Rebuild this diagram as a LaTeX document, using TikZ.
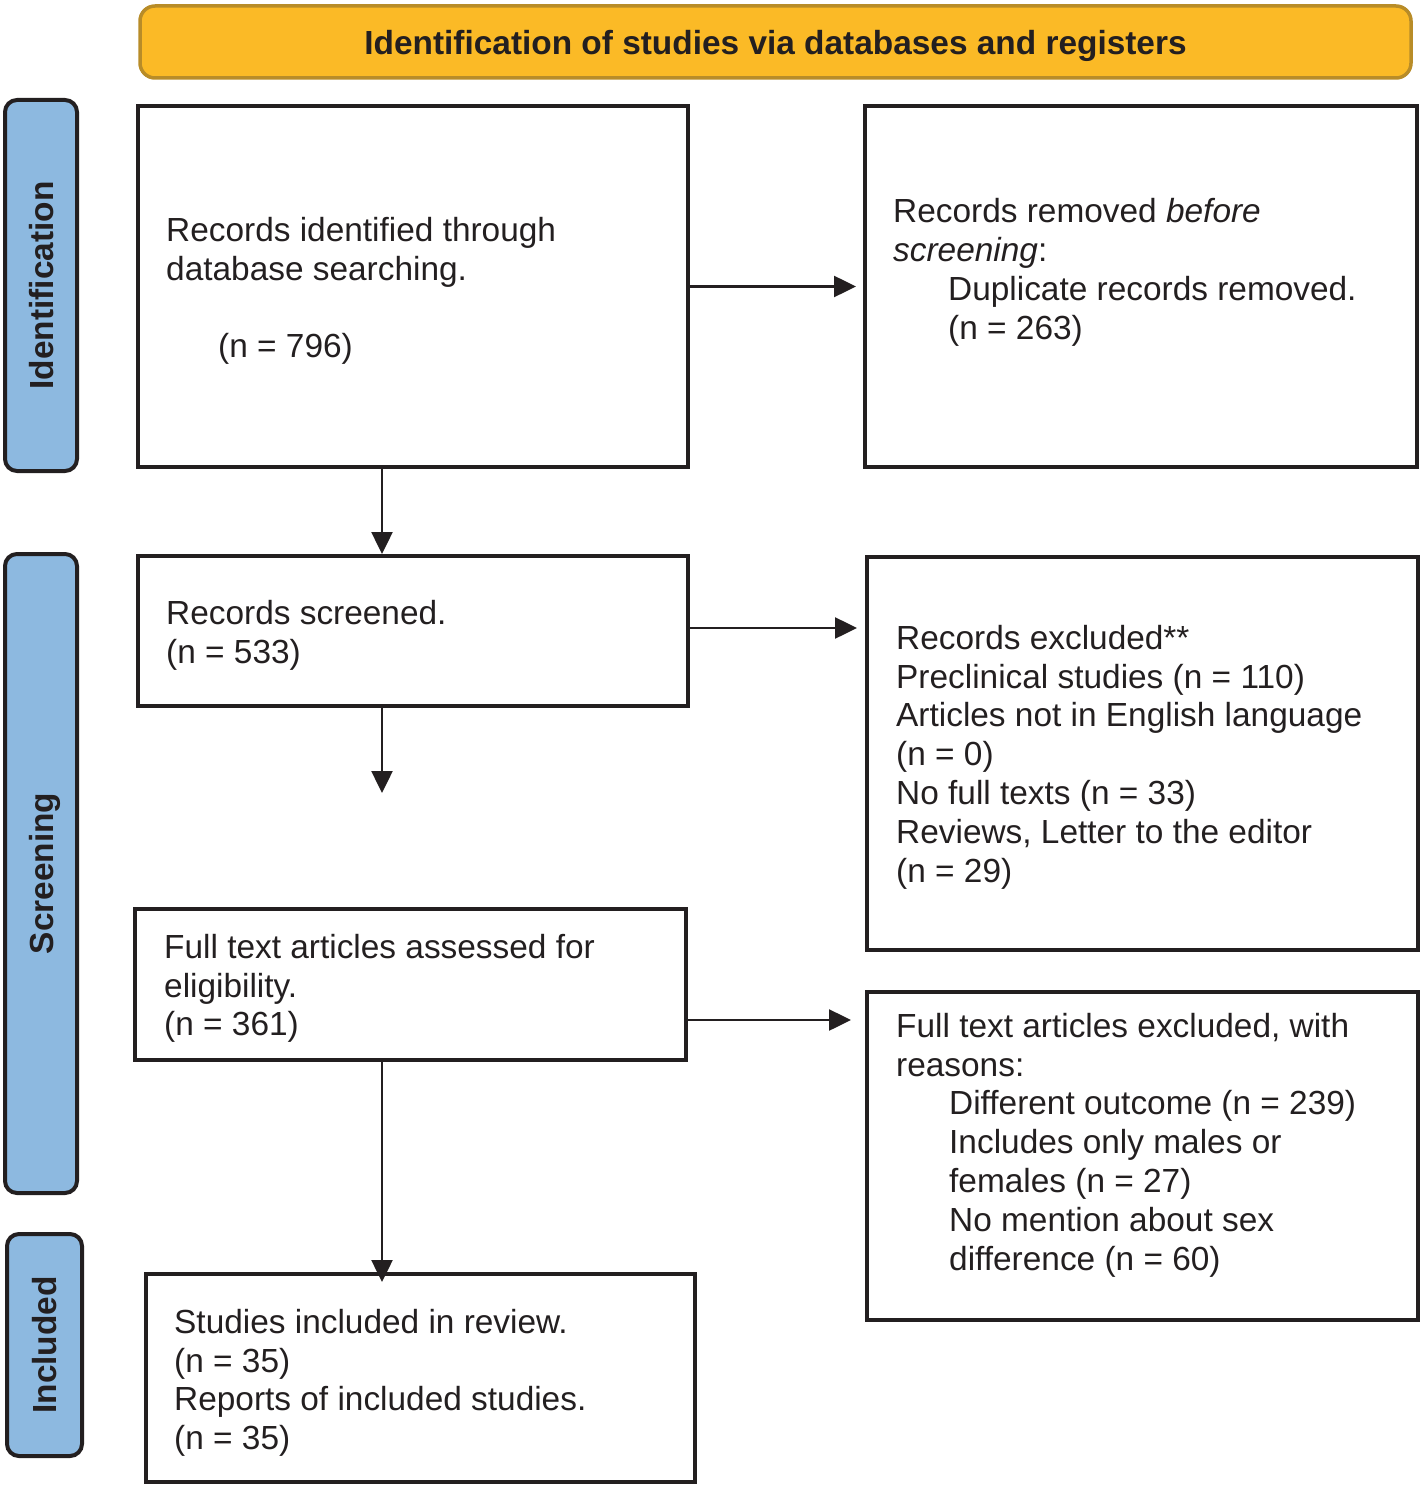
\documentclass[tikz,border=0pt]{standalone}
\usepackage{fontspec}
\setmainfont{Liberation Sans}
\usetikzlibrary{arrows.meta,calc}
\definecolor{banfill}{HTML}{FBBA26}
\definecolor{banline}{HTML}{B88C28}
\definecolor{sidefill}{HTML}{8DB9E0}
\definecolor{ink}{HTML}{231F20}
\begin{document}
\begin{tikzpicture}[x=1pt,y=-1pt,
  box/.style={draw=ink, line width=4pt, inner sep=0pt},
  txt/.style={anchor=north west, inner sep=0pt, align=left, text=ink, font=\fontsize{33.4}{38.9}\selectfont},
  side/.style={draw=ink, fill=sidefill, line width=4pt, rounded corners=12pt, inner sep=0pt, text depth=0pt, text=ink, font=\fontsize{33.4}{39}\selectfont\bfseries},
  banner/.style={draw=banline, fill=banfill, line width=3.5pt, rounded corners=15pt, inner sep=0pt, text depth=0pt, text=ink, font=\fontsize{33.4}{39}\selectfont\bfseries},
  arr/.style={draw=ink, line width=2.5pt, -{Triangle[length=22pt,width=21pt]}}
]
\useasboundingbox (0,0) rectangle (1425,1487);

% banner and side labels
\node[banner, minimum width=1271pt, minimum height=72pt] (ban) at (775.5,42) {Identification of studies via databases and registers};
\node[side, rotate=90, minimum width=371pt, minimum height=72pt] (sid) at (41,285.5) {Identification};
\node[side, rotate=90, minimum width=639pt, minimum height=72pt] (ssc) at (41,873.5) {Screening};
\node[side, rotate=90, minimum width=222pt, minimum height=75pt] (sin) at (44.5,1345) {Included};

% boxes
\node[box, minimum width=550pt, minimum height=361pt] (b1) at (413,286.5) {};
\node[box, minimum width=552pt, minimum height=361pt] (b2) at (1141,286.5) {};
\node[box, minimum width=550pt, minimum height=150pt] (b3) at (413,631) {};
\node[box, minimum width=551pt, minimum height=393pt] (b4) at (1142.5,753.5) {};
\node[box, minimum width=551pt, minimum height=151pt] (b5) at (410.5,984.5) {};
\node[box, minimum width=551pt, minimum height=328pt] (b6) at (1142.5,1156) {};
\node[box, minimum width=549pt, minimum height=208pt] (b7) at (420.5,1378) {};

% texts
\node[txt] (t1) at (166,213.7) {\strut Records identified through\\database searching.\\[38.9pt]\hspace*{52pt}(n = 796)};
\node[txt] (t2) at (893,195) {\strut Records removed \textit{before}\\\textit{screening}:\\\hspace*{55pt}Duplicate records removed.\\\hspace*{55pt}(n = 263)};
\node[txt] (t3) at (166,596.7) {\strut Records screened.\\(n = 533)};
\node[txt] (t4) at (896,621.7) {\strut Records excluded**\\Preclinical studies (n = 110)\\Articles not in English language\\(n = 0)\\No full texts (n = 33)\\Reviews, Letter to the editor\\(n = 29)};
\node[txt] (t5) at (164,930.7) {\strut Full text articles assessed for\\eligibility.\\(n = 361)};
\node[txt] (t6) at (896,1009.7) {\strut Full text articles excluded, with\\reasons:\\\hspace*{53pt}Different outcome (n = 239)\\\hspace*{53pt}Includes only males or\\\hspace*{53pt}females (n = 27)\\\hspace*{53pt}No mention about sex\\\hspace*{53pt}difference (n = 60)};
\node[txt] (t7) at (174,1305.7) {\strut Studies included in review.\\(n = 35)\\Reports of included studies.\\(n = 35)};

% connectors
\coordinate (d1) at (382,793);
\draw[arr, shorten >=7pt] (b1.east) -- (b2.west);
\draw[arr] ([xshift=-31pt]b1.south) -- ([xshift=-31pt]b1.south |- b3.north);
\draw[arr, shorten >=8pt] ([yshift=3pt]b3.east) -- ([yshift=3pt]b3.east -| b4.west);
\draw[arr] ([xshift=-31pt]b3.south) -- (d1);
\draw[arr, shorten >=14pt] ([yshift=-35.5pt]b5.east) -- ([yshift=-35.5pt]b5.east -| b6.west);
\draw[arr, shorten >=-10pt] ([xshift=-28.5pt]b5.south) -- ([xshift=-28.5pt]b5.south |- b7.north);
\end{tikzpicture}
\end{document}
